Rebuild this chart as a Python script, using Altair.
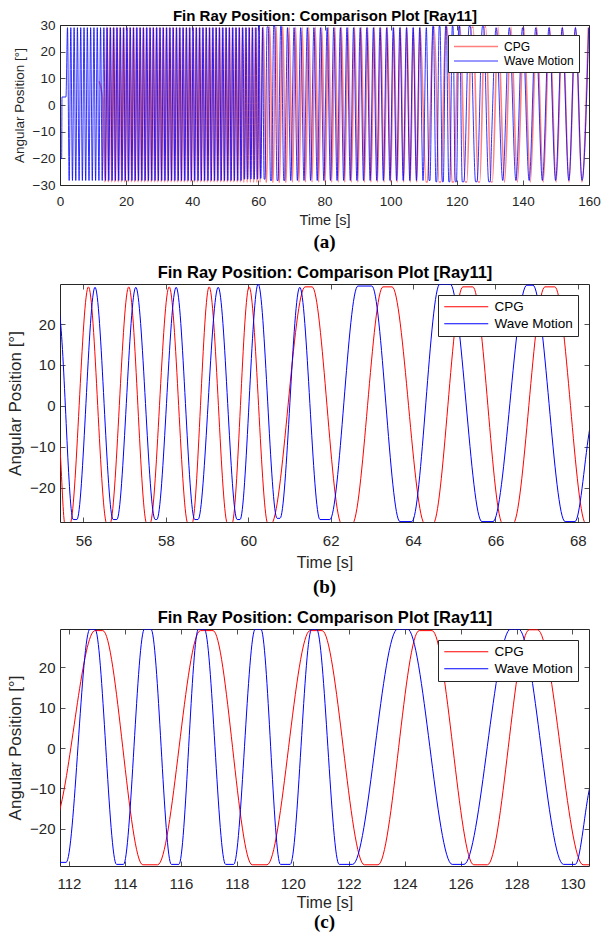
import altair as alt
import pandas as pd

SERIES = ["CPG", "Wave Motion"]
SERIES_COLORS = ["#ff0000", "#0000ff"]

# ---------------- Wave Motion (blue) ----------------
BLUE_HIGH = 29.0
BLUE_LOW = -28.3
BLUE_PEAKS = [2.27, 3.27, 4.27, 5.27, 6.27, 7.27, 8.27, 9.27, 10.27, 11.27, 12.27, 13.27,
              14.27, 15.27, 16.27, 17.27, 18.27, 19.27, 20.27, 21.27, 22.27, 23.27, 24.27,
              25.27, 26.27, 27.27, 28.27, 29.27, 30.27, 31.27, 32.27, 33.27, 34.27, 35.27,
              36.27, 37.27, 38.27, 39.27, 40.27, 41.27, 42.27, 43.27, 44.27, 45.27, 46.27,
              47.27, 48.27, 49.27, 50.27, 51.27, 52.27, 53.27, 54.27, 55.27,
              68.8, 70.8, 72.8, 74.8, 76.8, 78.8, 80.8, 82.8, 84.8, 86.8, 88.8, 90.8, 92.8,
              94.8, 96.8, 98.8, 100.8, 102.8, 104.8, 106.8, 108.8, 110.8,
              131.9, 135.9, 139.9, 143.9, 147.9, 151.9, 155.9, 159.9]
BLUE_TROUGHS = [2.77, 3.77, 4.77, 5.77, 6.77, 7.77, 8.77, 9.77, 10.77, 11.77, 12.77, 13.77,
                14.77, 15.77, 16.77, 17.77, 18.77, 19.77, 20.77, 21.77, 22.77, 23.77, 24.77,
                25.77, 26.77, 27.77, 28.77, 29.77, 30.77, 31.77, 32.77, 33.77, 34.77, 35.77,
                36.77, 37.77, 38.77, 39.77, 40.77, 41.77, 42.77, 43.77, 44.77, 45.77, 46.77,
                47.77, 48.77, 49.77, 50.77, 51.77, 52.77, 53.77, 54.77,
                69.8, 71.8, 73.8, 75.8, 77.8, 79.8, 81.8, 83.8, 85.8, 87.8, 89.8, 91.8, 93.8,
                95.8, 97.8, 99.8, 101.8, 103.8, 105.8, 107.8, 109.8,
                133.9, 137.9, 141.9, 145.9, 149.9, 153.9, 157.9]
BLUE_DETAIL_T = [0.0, 0.5, 0.6, 1.8,
                 55.43, 55.75, 55.84, 56.28, 56.72, 56.81, 57.27, 57.74, 57.78, 58.25, 58.7,
                 58.78, 59.27, 59.73, 59.8, 60.24, 60.7, 60.77, 61.25, 61.74, 61.98, 62.66,
                 63.0, 63.68, 63.97, 64.65, 64.9, 65.67, 65.94, 66.76, 66.91, 67.69, 67.93,
                 68.27,
                 111.65, 111.9, 112.75, 112.93, 113.7, 113.95, 114.7, 114.93, 115.66, 115.93,
                 116.63, 116.84, 117.6, 117.89, 118.66, 118.86, 119.56, 119.91, 120.68, 120.85,
                 121.66, 122.14, 123.75, 124.1, 125.7, 126.12, 127.79, 128.07, 129.68, 130.1,
                 130.59]
BLUE_DETAIL_V = [-20.0, -20.0, 3.0, 3.0,
                 21.6, -27.8, -27.8, 29.0, -27.8, -27.8, 29.0, -27.8, -27.8, 29.0, -27.8,
                 -27.8, 29.0, -27.8, -27.8, 29.8, -27.5, -27.5, 29.0, -27.8, -27.8, 29.3,
                 29.3, -28.3, -28.3, 29.8, 29.8, -28.3, -28.3, 29.5, 29.5, -28.3, -28.3,
                 -6.7,
                 -28.3, -28.3, 29.5, 29.5, -28.8, -28.8, 29.5, 29.5, -28.8, -28.8,
                 29.5, 29.5, -28.8, -28.8, 29.5, 29.5, -28.8, -28.8, 29.5, 29.5,
                 -28.8, -28.8, 29.5, 29.5, -28.8, -28.8, 29.5, 29.5, -28.8, -28.8,
                 -10.6]

# ---------------- CPG (red) ----------------
RED_HIGH = 29.1
RED_LOW = -28.9
RED_PEAKS = [14.1, 15.1, 16.1, 17.1, 18.1, 19.1, 20.1, 21.1, 22.1, 23.1, 24.1, 25.1, 26.1,
             27.1, 28.1, 29.1, 30.1, 31.1, 32.1, 33.1, 34.1, 35.1, 36.1, 37.1, 38.1, 39.1,
             40.1, 41.1, 42.1, 43.1, 44.1, 45.1, 46.1, 47.1, 48.1, 49.1, 50.1, 51.1, 52.1,
             53.1, 54.1, 55.1,
             69.3, 71.28, 73.26, 75.24, 77.22, 79.2, 81.18, 83.16, 85.14, 87.12, 89.1, 91.08,
             93.06, 95.04, 97.02, 99.0, 100.98, 102.96, 104.94, 106.92, 108.9,
             132.5, 136.4, 140.3, 144.2, 148.1, 152.0, 155.9, 159.8]
RED_TROUGHS = [13.6, 14.6, 15.6, 16.6, 17.6, 18.6, 19.6, 20.6, 21.6, 22.6, 23.6, 24.6, 25.6,
               26.6, 27.6, 28.6, 29.6, 30.6, 31.6, 32.6, 33.6, 34.6, 35.6, 36.6, 37.6, 38.6,
               39.6, 40.6, 41.6, 42.6, 43.6, 44.6, 45.6, 46.6, 47.6, 48.6, 49.6, 50.6, 51.6,
               52.6, 53.6, 54.6,
               70.29, 72.27, 74.25, 76.23, 78.21, 80.19, 82.17, 84.15, 86.13, 88.11, 90.09,
               92.07, 94.05, 96.03, 98.01, 99.99, 101.97, 103.95, 105.93, 107.91,
               134.45, 138.35, 142.25, 146.15, 150.05, 153.95, 157.85]
RED_DETAIL_T = [11.8, 12.9,
                55.43, 55.55, 55.67, 56.12, 56.57, 56.64, 57.1, 57.54, 57.61, 58.08, 58.54,
                58.63, 59.05, 59.5, 59.6, 60.02, 60.48, 60.55, 61.38, 61.55, 62.27, 62.52,
                63.27, 63.49, 64.29, 64.48, 65.21, 65.45, 66.18, 66.42, 67.2, 67.44, 68.2, 68.4,
                110.7, 111.1, 111.68, 112.93, 113.21, 114.64, 115.17, 116.7, 117.15, 118.55,
                119.08, 120.62, 121.05, 122.56, 123.05, 124.52, 124.98, 126.47, 126.96, 128.45,
                128.75, 130.38, 130.75]
RED_DETAIL_V = [8.9, 2.2,
                -10.4, -28.9, -28.9, 29.1, -28.9, -28.9, 29.1, -28.9, -28.9, 29.1, -28.9,
                -28.9, 29.1, -28.9, -28.9, 29.1, -28.9, -28.9, 29.1, 29.1, -28.9, -28.9,
                29.1, 29.1, -28.9, -28.9, 29.1, 29.1, -28.9, -28.9, 29.1, 29.1, -28.9, -28.9,
                -28.9, -28.9, -15.1, 29.1, 29.1, -28.9, -28.9, 29.1, 29.1, -28.9,
                -28.9, 29.1, 29.1, -28.9, -28.9, 29.1, 29.1, -28.9, -28.9, 29.3,
                29.3, -28.9, -28.9]

TITLE = "Fin Ray Position: Comparison Plot [Ray11]"
X_TICKS_A = [0, 20, 40, 60, 80, 100, 120, 140, 160]
Y_TICKS_A = [-30, -20, -10, 0, 10, 20, 30]
X_TICKS_B = [56, 58, 60, 62, 64, 66, 68]
X_TICKS_C = [112, 114, 116, 118, 120, 122, 124, 126, 128, 130]
Y_TICKS_BC = [-20, -10, 0, 10, 20]


def series_frame(name, peaks, troughs, high, low, det_t, det_v):
    rows = [(t, high) for t in peaks] + [(t, low) for t in troughs] + list(zip(det_t, det_v))
    df = pd.DataFrame(rows, columns=["t", "v"]).sort_values("t").reset_index(drop=True)
    df["series"] = name
    return df


data = pd.concat([
    series_frame("CPG", RED_PEAKS, RED_TROUGHS, RED_HIGH, RED_LOW, RED_DETAIL_T, RED_DETAIL_V),
    series_frame("Wave Motion", BLUE_PEAKS, BLUE_TROUGHS, BLUE_HIGH, BLUE_LOW,
                 BLUE_DETAIL_T, BLUE_DETAIL_V),
], ignore_index=True)

FONT = "Liberation Sans"
INK = "#262626"


def make_panel(xdom, ydom, xticks, yticks, height, caption, fs, first=False):
    lo, hi = xdom
    sub = data[(data.t >= lo - 2.5) & (data.t <= hi + 2.5)]
    xs = alt.Scale(domain=list(xdom), nice=False, zero=False)
    ys = alt.Scale(domain=list(ydom), nice=False, zero=False)
    common = dict(domain=False, grid=False, tickSize=5, offset=-5, tickColor=INK,
                  tickWidth=0.8)
    leg = alt.Legend(title=None, orient="top-right", offset=fs["legoff"], padding=5,
                     strokeColor=INK, fillColor="white", symbolType="M-1,0H7",
                     symbolSize=121, symbolStrokeWidth=1, labelFont=FONT,
                     labelFontSize=fs["leg"], labelColor="black", rowPadding=2,
                     labelOffset=38, cornerRadius=0)
    enc = dict(
        x=alt.X("t:Q", scale=xs,
                axis=alt.Axis(values=xticks, title="Time [s]", labelPadding=fs["lp"],
                              labelFlush=False, labelOverlap=False, titlePadding=fs["tp"],
                              labelFont=FONT, titleFont=FONT, labelFontSize=fs["tick"],
                              titleFontSize=fs["axt"], titleFontWeight="normal",
                              labelColor=INK, titleColor=INK, **common)),
        y=alt.Y("v:Q", scale=ys,
                axis=alt.Axis(values=yticks, title="Angular Position [°]", labelPadding=5,
                              labelOverlap=False, titlePadding=fs["ytp"], labelFont=FONT,
                              titleFont=FONT, labelFontSize=fs["tick"],
                              titleFontSize=fs["ayt"], titleFontWeight="normal",
                              labelColor=INK, titleColor=INK, **common)),
        color=alt.Color("series:N", scale=alt.Scale(domain=SERIES, range=SERIES_COLORS),
                        legend=leg),
    )
    if first:
        enc["opacity"] = alt.Opacity("series:N",
                                     scale=alt.Scale(domain=SERIES, range=[0.5, 0.8]),
                                     legend=leg)
        enc["strokeWidth"] = alt.StrokeWidth("series:N",
                                             scale=alt.Scale(domain=SERIES, range=[1.6, 1.0]),
                                             legend=leg)
        lines = alt.Chart(sub).mark_line(interpolate="monotone", clip=True).encode(**enc)
    else:
        lines = alt.Chart(sub).mark_line(interpolate="monotone", clip=True,
                                         strokeWidth=1).encode(**enc)
    frame = alt.Chart(sub).mark_line(opacity=0, clip=True).encode(
        x=alt.X("t:Q", scale=xs,
                axis=alt.Axis(orient="top", values=xticks, labels=False, title=TITLE,
                              titleFont=FONT, titleFontSize=fs["title"],
                              titleFontWeight="bold", titleColor="black",
                              titlePadding=fs["toff"], **common)),
        y=alt.Y("v:Q", scale=ys, axis=alt.Axis(orient="right", values=yticks, labels=False,
                                                title=None, **common)),
    )
    return alt.layer(lines, frame).resolve_axis(x="independent", y="independent").properties(
        width=529, height=height,
        title=alt.Title(caption, orient="bottom", font="Liberation Serif", fontSize=19,
                        fontWeight="bold", color="black", anchor="middle", frame="group",
                        offset=fs["capoff"]))


FS_A = dict(tick=13.5, axt=14.5, ayt=13.5, title=15, leg=12, lp=9, tp=6, ytp=6, toff=1,
            legoff=10, capoff=6)
FS_B = dict(tick=15, axt=16, ayt=17, title=16.5, leg=13.5, lp=11, tp=6, ytp=5, toff=3,
            legoff=11, capoff=8)
FS_C = dict(tick=15, axt=16, ayt=17, title=16.5, leg=13.5, lp=10, tp=3, ytp=5, toff=3,
            legoff=11, capoff=3)

pA = make_panel((0, 160), (-30, 30), X_TICKS_A, Y_TICKS_A, 160, "(a)", FS_A, first=True)
pB = make_panel((55.43, 68.27), (-28.4, 29.8), X_TICKS_B, Y_TICKS_BC, 238, "(b)", FS_B)
pC = make_panel((111.68, 130.59), (-29.2, 29.5), X_TICKS_C, Y_TICKS_BC, 237, "(c)", FS_C)

chart = alt.vconcat(pA, pB, pC, spacing=11).resolve_scale(
    color="independent", opacity="independent", strokeWidth="independent"
).properties(
    padding={"left": 6, "top": 8, "right": 5, "bottom": 5},
    background="white",
).configure_view(stroke=INK, strokeWidth=1)

chart.save("out.html", embed_options={"renderer": "svg", "actions": False})
